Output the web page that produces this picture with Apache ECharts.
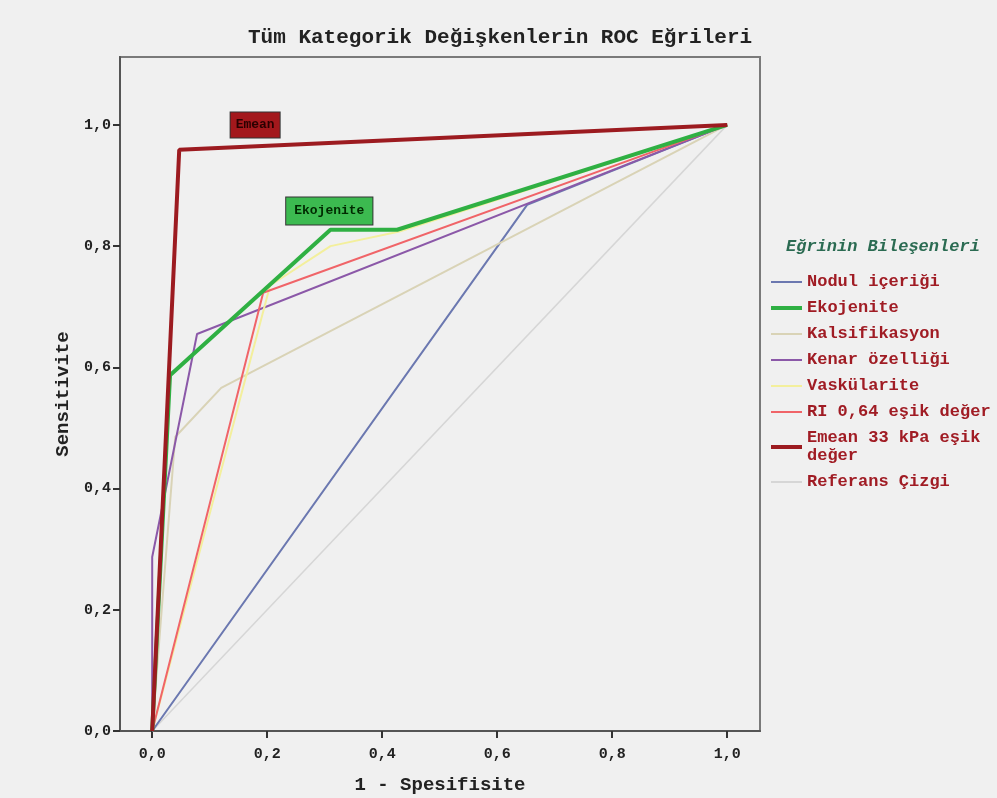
<!DOCTYPE html>
<html>
<head>
<meta charset="utf-8">
<script src="https://cdn.jsdelivr.net/npm/echarts@6/dist/echarts.min.js"></script>
<style>
  html, body { margin: 0; padding: 0; background: #f0f0f0; }
  #roc { width: 997px; height: 798px; }
</style>
</head>
<body>
<div id="roc"></div>
<script>
// ROC curves, [1 - specificity, sensitivity]
var nodul = [[0, 0], [0.652, 0.868], [1, 1]];
var ekojenite = [[0, 0], [0.031, 0.587], [0.31, 0.827], [0.426, 0.827], [1, 1]];
var kalsifikasyon = [[0, 0], [0.04, 0.485], [0.12, 0.566], [1, 1]];
var kenar = [[0, 0], [0, 0.287], [0.078, 0.655], [1, 1]];
var vaskularite = [[0, 0], [0.205, 0.735], [0.31, 0.8], [0.43, 0.824], [1, 1]];
var ri = [[0, 0], [0.193, 0.723], [1, 1]];
var emean = [[0, 0], [0.047, 0.959], [1, 1]];
var referans = [[0, 0], [1, 1]];

var xTicks = [0, 0.2, 0.4, 0.6, 0.8, 1.0];
var yTicks = [0, 0.2, 0.4, 0.6, 0.8, 1.0];

var names = ['Nodul içeriği', 'Ekojenite', 'Kalsifikasyon', 'Kenar özelliği',
  'Vaskülarite', 'RI 0,64 eşik değer', 'Emean 33 kPa eşik\ndeğer', 'Referans Çizgi'];

var mono = '"Liberation Mono", "DejaVu Sans Mono", monospace';

function fmt(v) {
  return v.toFixed(1).replace('.', ',');
}

function line(name, data, color, width, z) {
  return {
    name: name,
    type: 'line',
    data: data,
    symbol: 'none',
    z: z || 2,
    lineStyle: {color: color, width: width},
    itemStyle: {color: color}
  };
}

// thick legend lines for the two highlighted curves
var legendData = names.map(function (n, i) {
  var w = (i === 1 || i === 6) ? 4 : 2;
  return {name: n, lineStyle: {width: w}};
});

var chart = echarts.init(document.getElementById('roc'));

var emeanSeries = line(names[6], emean, '#9c1b20', 4, 6);
emeanSeries.markPoint = {
  symbol: 'rect',
  symbolSize: 1,
  itemStyle: {color: 'rgba(0,0,0,0)'},
  data: [{
    coord: [0.179, 1.0],
    label: {
      show: true, position: 'inside', formatter: 'Emean',
      color: '#2a0000', fontFamily: mono, fontWeight: 'bold', fontSize: 13,
      backgroundColor: '#a3181c', borderColor: '#333', borderWidth: 1,
      padding: [6, 5]
    }
  }]
};

var ekoSeries = line(names[1], ekojenite, '#2fb043', 4, 5);
ekoSeries.markPoint = {
  symbol: 'rect',
  symbolSize: 1,
  itemStyle: {color: 'rgba(0,0,0,0)'},
  data: [{
    coord: [0.308, 0.858],
    label: {
      show: true, position: 'inside', formatter: 'Ekojenite',
      color: '#002a00', fontFamily: mono, fontWeight: 'bold', fontSize: 13,
      backgroundColor: '#3cba50', borderColor: '#333', borderWidth: 1,
      padding: [7, 8]
    }
  }]
};

var option = {
  backgroundColor: '#f0f0f0',
  animation: false,
  title: [{
    text: 'Tüm Kategorik Değişkenlerin ROC Eğrileri',
    left: 243,
    top: 22,
    textStyle: {fontFamily: mono, fontWeight: 'bold', fontSize: 21, color: '#222'}
  }, {
    text: 'Eğrinin Bileşenleri',
    left: 781,
    top: 233,
    textStyle: {fontFamily: mono, fontWeight: 'bold', fontStyle: 'italic', fontSize: 17, color: '#2b6b52'}
  }],
  legend: {
    orient: 'vertical',
    left: 764,
    top: 268,
    itemWidth: 31,
    itemHeight: 14,
    itemGap: 8,
    data: legendData,
    itemStyle: {opacity: 0},
    textStyle: {fontFamily: mono, fontWeight: 'bold', fontSize: 17, color: '#a01c24', lineHeight: 18}
  },
  grid: {
    left: 120,
    top: 57,
    right: 237,
    bottom: 67,
    outerBoundsMode: 'none',
    show: true,
    backgroundColor: '#f0f0f0',
    borderColor: '#7a7a7a',
    borderWidth: 2
  },
  xAxis: {
    type: 'value',
    min: -0.056,
    max: 1.057,
    name: '1 - Spesifisite',
    nameLocation: 'middle',
    nameGap: 45,
    nameTextStyle: {fontFamily: mono, fontWeight: 'bold', fontSize: 19, color: '#222'},
    axisLine: {onZero: false, lineStyle: {color: '#555', width: 2}},
    axisTick: {customValues: xTicks, length: 7, lineStyle: {color: '#333', width: 2}},
    axisLabel: {customValues: xTicks, formatter: fmt, margin: 16,
      fontFamily: mono, fontWeight: 'bold', fontSize: 15, color: '#222'},
    splitLine: {show: false}
  },
  yAxis: {
    type: 'value',
    min: 0,
    max: 1.112,
    name: 'Sensitivite',
    nameLocation: 'middle',
    nameGap: 37,
    nameTextStyle: {fontFamily: mono, fontWeight: 'bold', fontSize: 19, color: '#222'},
    axisLine: {onZero: false, lineStyle: {color: '#555', width: 2}},
    axisTick: {customValues: yTicks, length: 7, lineStyle: {color: '#333', width: 2}},
    axisLabel: {customValues: yTicks, formatter: fmt, margin: 9,
      fontFamily: mono, fontWeight: 'bold', fontSize: 15, color: '#222'},
    splitLine: {show: false}
  },
  series: [
    line(names[7], referans, '#d6d6d6', 1.5, 1),
    line(names[0], nodul, '#6b78b0', 2),
    line(names[2], kalsifikasyon, '#d9d3b6', 2),
    line(names[3], kenar, '#8b58a8', 2),
    line(names[4], vaskularite, '#f3ef9c', 2),
    line(names[5], ri, '#f06468', 2),
    ekoSeries,
    emeanSeries
  ]
};

chart.setOption(option);
</script>
</body>
</html>
